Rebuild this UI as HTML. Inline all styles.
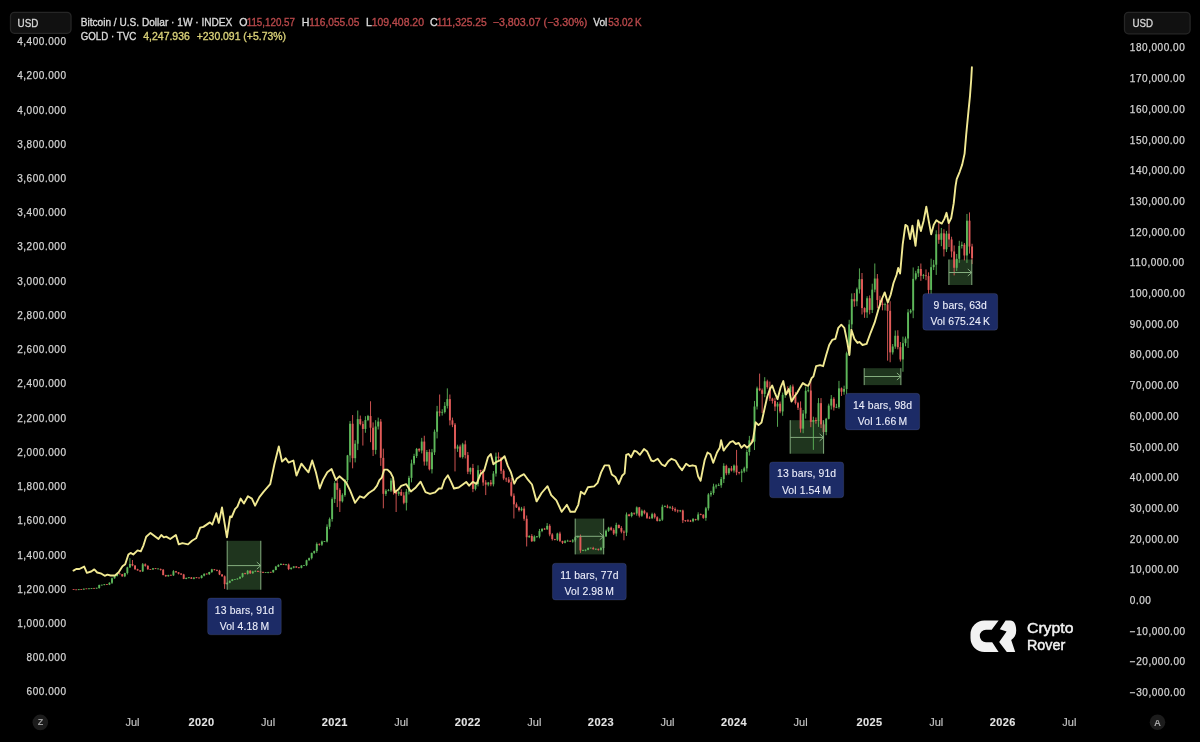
<!DOCTYPE html>
<html><head><meta charset="utf-8"><title>BTC vs Gold</title>
<style>html,body{margin:0;padding:0;background:#000;width:1200px;height:742px;overflow:hidden}svg{display:block}</style>
</head><body>
<svg width="1200" height="742" viewBox="0 0 1200 742">
<defs><clipPath id="cp"><rect x="72" y="0" width="1050" height="705"/></clipPath></defs>
<rect x="227.2" y="540.8" width="33.6" height="48.9" fill="#1f351e"/>
<rect x="575.2" y="518.6" width="28.5" height="35.8" fill="#1f351e"/>
<rect x="790.2" y="420.2" width="33.4" height="33.5" fill="#1f351e"/>
<rect x="864.2" y="368.2" width="36.7" height="16.9" fill="#1f351e"/>
<rect x="948.9" y="259.5" width="22.9" height="25.5" fill="#1f351e"/>
<g clip-path="url(#cp)">
<path d="M71.05 589.43V589.99M78.73 589.16V590.06M83.85 588.52V589.78M88.97 588.5V589.1M91.53 588.15V588.65M96.65 587.84V588.61M99.21 584.63V588.68M101.77 584.83V585.37M104.33 584.03V585.22M109.45 582.33V585.08M112.01 577.61V583.98M114.57 575.43V578.7M117.13 572.86V576.58M124.8 572.79V577.11M127.36 566.75V574.47M129.92 558.15V567.92M142.72 563.02V571.97M152.96 568.03V569.63M158.08 568.5V569.12M168.32 574.77V576.63M173.44 570.13V575.88M186.24 577.72V579.22M188.8 577.06V578.33M193.92 577.35V579.29M201.6 575.08V578.49M204.16 573.33V576.35M209.27 571.81V575.02M211.83 568.8V572.95M227.19 582.48V584.62M229.75 580.39V583.17M232.31 579.13V581.18M234.87 579.33V579.48M237.43 578.19V579.63M239.99 576.37V578.89M242.55 572.84V577.72M247.67 570.06V574.6M252.79 570.81V573.86M255.35 570.44V572.06M265.59 572.11V572.78M268.15 571.84V573.25M273.27 569.68V572.77M275.83 565.91V570.3M278.39 564.27V567.06M280.95 563.22V565.11M286.07 564.24V565.38M291.19 567.55V569.66M293.74 566.11V568.34M301.42 565.23V568.35M303.98 565.08V565.65M306.54 559.7V566.14M309.1 557.61V560.66M311.66 552.6V559.45M314.22 550.63V553.89M316.78 542.44V552.87M321.9 540.55V545.88M324.46 540.99V541.72M327.02 524.35V542.51M329.58 517.51V529.25M332.14 497.41V521.66M334.7 481.1V502.96M342.38 493.36V502.46M344.94 478.97V496.73M347.5 454.9V482.25M350.06 420.96V462.32M355.18 440.2V462.4M357.74 410.5V450.09M365.42 416.19V432.78M367.98 414.88V421.14M375.66 420.15V454.3M378.21 417.58V429.48M385.89 489.2V495.98M388.45 488.98V491.31M391.01 478.19V491.97M398.69 490.84V495.9M406.37 488.99V510.47M408.93 475.86V494.43M411.49 459.64V482.37M414.05 453.81V465M416.61 447.94V457.99M421.73 437.88V453.43M426.85 449.99V465.66M431.97 448.94V473.48M434.53 429.54V455.01M437.09 405.89V438.41M442.21 409.22V415.57M444.77 402.07V413.49M447.33 388.36V408.47M457.57 444.71V451.9M462.69 442.84V458.59M470.36 467.41V474.38M475.48 482.97V490.45M478.04 465.33V486.39M488.28 481.95V486.28M493.4 471.07V486.36M495.96 452.64V476.55M521.56 506.9V511.25M529.24 535.25V537.73M534.36 535.35V541.57M536.92 536.42V537.78M539.48 528.92V538.29M542.04 528.14V532.2M547.16 523.08V530M557.39 532.73V540.95M565.07 540.04V543.34M567.63 539.74V541.68M572.75 539.04V542.69M575.31 536.55V542.12M577.87 535.69V537.95M582.99 549.62V551.11M585.55 549.41V551.29M588.11 547.43V550.21M590.67 547.86V548.41M595.79 548.7V550.02M600.91 546.87V550.62M603.47 534.52V549.66M606.03 529.49V537.03M608.59 526.81V531.88M616.27 522.72V536.41M626.51 512.45V535.97M631.63 511.99V517.34M636.74 506.44V515.74M641.86 509.48V516.83M652.1 512.7V519.07M659.78 518.38V521.38M662.34 504.66V520.87M664.9 505.35V507.18M670.02 505.94V508.7M680.26 509.89V512.16M693.06 518.01V522.25M698.18 512.3V520.77M705.86 506.92V520.74M708.42 493.14V510.54M710.98 490.84V496.66M713.54 483.7V494.83M716.1 484.13V488.64M718.65 483.33V485.95M721.21 477.01V487.79M723.77 463.24V483.02M728.89 467.8V474.82M734.01 464.49V472.66M741.69 469.23V482.17M744.25 466.74V472.83M746.81 449.59V471.65M749.37 435.88V455.59M754.49 400.93V450.03M757.05 386.6V409.5M764.73 377.18V397.23M777.53 401.96V426.81M782.65 392.53V415.8M785.21 388.12V397.79M790.33 384.91V396.28M803.13 410.03V433.26M805.68 386.47V418.63M808.24 386.76V392.24M813.36 416.7V449.88M818.48 398.06V426.9M826.16 417.9V435.21M828.72 403.61V419.41M831.28 395.04V409.51M836.4 403.82V408.1M838.96 380.89V408.73M844.08 385.68V394.73M846.64 351.65V394.3M849.2 319.79V355.43M851.76 293.4V328.59M856.88 287.52V306.23M859.44 268.39V293.5M867.12 296.21V317.91M872.24 283.7V313M874.8 263.47V292.31M885.04 302.66V310.46M892.71 344.04V354.57M895.27 330.47V348.81M902.95 336.61V371.75M905.51 336.53V346.27M908.07 309.11V347.97M910.63 309.07V313.63M913.19 267.47V318.18M915.75 270.8V280.36M918.31 266V277.04M923.43 273.95V278.84M931.11 258.66V298.8M933.67 259.93V270.04M936.23 230.31V274.94M941.35 227.95V246.19M946.47 230.86V252.01M956.71 253.96V270.97M959.27 240.75V262.89M961.83 241.7V248.5M966.95 213.95V262.92" stroke="#5db75a" stroke-width="0.9" fill="none"/>
<path d="M73.61 589.39V589.73M76.17 589.62V590.03M81.29 589.19V589.68M86.41 588.7V589.03M94.09 588.12V588.46M106.89 584.21V584.9M119.69 573.38V574.25M122.24 573.96V576.71M132.48 560V566.28M135.04 565.18V569.8M137.6 568.76V570.62M140.16 570.09V572.08M145.28 563.4V566.73M147.84 565.26V569.79M150.4 569.12V569.72M155.52 568.13V569.1M160.64 568.62V570.57M163.2 569.01V575.29M165.76 574.8V576.77M170.88 574.77V575.73M176 570.91V572.81M178.56 572.01V574.43M181.12 573.09V575.02M183.68 573.83V579.16M191.36 577V578.95M196.48 577.11V578.2M199.04 577.74V578.43M206.71 573.53V574.56M214.39 569.03V570.29M216.95 569.47V571.23M219.51 569.83V575.11M222.07 574.18V576.68M224.63 575.48V588.91M245.11 572.8V574.4M250.23 570.2V574M257.91 570.71V571.98M260.47 571.72V572.48M263.03 571.77V573.02M270.71 571.99V572.63M283.51 563.78V565.04M288.63 563.62V570.14M296.3 566.15V567.83M298.86 567.18V568.29M319.34 543.43V545.55M337.26 480.06V507.09M339.82 488.21V512.01M352.62 415.04V468.33M360.3 415.56V425.37M362.86 421.26V445.57M370.54 401.28V442.19M373.1 422.42V456.03M380.77 419.05V465.87M383.33 448.66V508.32M393.57 479.69V494.58M396.13 489.71V512.01M401.25 489.25V495.96M403.81 492.21V504.24M419.17 448.16V451.92M424.29 435.75V465.62M429.41 449.29V470.45M439.65 394.51V416.37M449.89 394.5V425.39M452.45 417.6V427.16M455.01 423V471.41M460.13 444.64V457.98M465.24 440.51V458.42M467.8 451.99V474.12M472.92 463.92V492.17M480.6 469.75V473.21M483.16 469.16V485.82M485.72 480.12V495.09M490.84 479.98V486.22M498.52 452.34V459.98M501.08 457.12V473.93M503.64 469.28V480.16M506.2 477.49V481.88M508.76 476.97V483.07M511.32 477.98V496.66M513.88 493.4V518.47M516.44 502.4V508M519 506.41V511.61M524.12 506.21V520.79M526.68 515.48V546.46M531.8 534.11V541.94M544.6 527.91V529.88M549.71 524.21V536.27M552.27 533.15V540.59M554.83 538.84V540.34M559.95 531.71V542.05M562.51 540.75V543.97M570.19 540.43V541.76M580.43 534.59V552.92M593.23 546.82V549.61M598.35 548.53V550.65M611.15 526.61V530.76M613.71 528.2V535.02M618.83 524.54V528.44M621.39 526.16V533.33M623.95 530.4V540.31M629.07 513.85V516.46M634.18 512.7V514.82M639.3 506.94V517.47M644.42 509.8V514.39M646.98 512.05V518.98M649.54 516.34V518.88M654.66 512.83V518.59M657.22 516.26V521.53M667.46 504.68V508.26M672.58 505.87V510.79M675.14 507.34V512.02M677.7 509.53V512.64M682.82 509.61V523.08M685.38 520.06V521.88M687.94 519.25V521.99M690.5 519.85V522.04M695.62 518.81V520.61M700.74 513.56V515.18M703.3 514.19V518.84M726.33 464.71V475.22M731.45 466.06V471.49M736.57 449.88V475.21M739.13 471.77V474.37M751.93 439.12V442.03M759.61 373.59V391.16M762.17 388.5V412.96M767.29 379.71V388.69M769.85 381.57V401.08M772.41 397.74V403.59M774.97 397.76V411.08M780.09 401.54V413.22M787.77 386.31V393.77M792.89 384.5V399.9M795.45 391.93V404.52M798.01 401.86V410.01M800.57 401.4V432.62M810.8 381.35V427.18M815.92 417.5V423.67M821.04 398.1V428.07M823.6 422.36V434.04M833.84 397.15V410.56M841.52 387.48V395.95M854.32 293.1V306.79M862 273V314.44M864.56 307.31V317.82M869.68 295.46V314.36M877.36 274.04V308.15M879.92 295.81V306.83M882.48 298.39V310.34M887.6 300.62V360.67M890.15 301.22V362.24M897.83 330.22V349.32M900.39 342.01V361.56M920.87 263.53V280.84M925.99 269.45V280.18M928.55 272.34V297.23M938.79 222.25V243.82M943.91 229.29V256.44M949.03 222.87V247.03M951.59 236.72V257.43M954.15 245.47V275.39M964.39 243.01V260.38M969.51 212.41V253.63M972.07 243.78V264.09" stroke="#e25b59" stroke-width="0.9" fill="none"/>
<g fill="#5db75a"><rect x="70.1" y="589.28" width="1.9" height="0.8"/><rect x="77.78" y="589.28" width="1.9" height="0.8"/><rect x="82.9" y="588.74" width="1.9" height="0.8"/><rect x="88.02" y="588.36" width="1.9" height="0.8"/><rect x="90.58" y="588.05" width="1.9" height="0.8"/><rect x="95.7" y="587.77" width="1.9" height="0.8"/><rect x="98.26" y="585.07" width="1.9" height="2.92"/><rect x="100.82" y="584.67" width="1.9" height="0.8"/><rect x="103.38" y="584.28" width="1.9" height="0.8"/><rect x="108.5" y="582.76" width="1.9" height="1.85"/><rect x="111.06" y="578.3" width="1.9" height="4.46"/><rect x="113.62" y="575.99" width="1.9" height="2.31"/><rect x="116.18" y="573.69" width="1.9" height="2.31"/><rect x="123.85" y="573.07" width="1.9" height="3.23"/><rect x="126.41" y="567.38" width="1.9" height="5.69"/><rect x="128.97" y="564" width="1.9" height="3.38"/><rect x="141.77" y="564.3" width="1.9" height="7.07"/><rect x="152.01" y="568.3" width="1.9" height="1.23"/><rect x="157.13" y="568.52" width="1.9" height="0.8"/><rect x="167.37" y="575.07" width="1.9" height="1.23"/><rect x="172.49" y="571.22" width="1.9" height="4.15"/><rect x="185.29" y="577.84" width="1.9" height="1.08"/><rect x="187.85" y="577.28" width="1.9" height="0.8"/><rect x="192.97" y="577.53" width="1.9" height="1.23"/><rect x="200.65" y="575.68" width="1.9" height="2.31"/><rect x="203.21" y="573.84" width="1.9" height="1.85"/><rect x="208.32" y="571.99" width="1.9" height="2.15"/><rect x="210.88" y="569.38" width="1.9" height="2.61"/><rect x="226.24" y="582.76" width="1.9" height="1.38"/><rect x="228.8" y="580.91" width="1.9" height="1.85"/><rect x="231.36" y="579.38" width="1.9" height="1.54"/><rect x="233.92" y="578.98" width="1.9" height="0.8"/><rect x="236.48" y="578.59" width="1.9" height="0.8"/><rect x="239.04" y="576.91" width="1.9" height="1.69"/><rect x="241.6" y="573.22" width="1.9" height="3.69"/><rect x="246.72" y="570.76" width="1.9" height="3.08"/><rect x="251.84" y="571.53" width="1.9" height="1.69"/><rect x="254.4" y="570.82" width="1.9" height="0.8"/><rect x="264.64" y="572.21" width="1.9" height="0.8"/><rect x="267.2" y="571.98" width="1.9" height="0.8"/><rect x="272.32" y="569.99" width="1.9" height="2.31"/><rect x="274.88" y="566.61" width="1.9" height="3.38"/><rect x="277.44" y="564.92" width="1.9" height="1.69"/><rect x="280" y="564" width="1.9" height="0.92"/><rect x="285.12" y="564.29" width="1.9" height="0.8"/><rect x="290.24" y="567.69" width="1.9" height="1.38"/><rect x="292.79" y="566.46" width="1.9" height="1.23"/><rect x="300.47" y="565.53" width="1.9" height="2.31"/><rect x="303.03" y="564.98" width="1.9" height="0.8"/><rect x="305.59" y="560.3" width="1.9" height="4.92"/><rect x="308.15" y="558.15" width="1.9" height="2.15"/><rect x="310.71" y="552.92" width="1.9" height="5.23"/><rect x="313.27" y="551.08" width="1.9" height="1.85"/><rect x="315.83" y="544" width="1.9" height="7.07"/><rect x="320.95" y="541.54" width="1.9" height="3.08"/><rect x="323.51" y="541.14" width="1.9" height="0.8"/><rect x="326.07" y="526.78" width="1.9" height="14.76"/><rect x="328.63" y="519.09" width="1.9" height="7.69"/><rect x="331.19" y="499.09" width="1.9" height="19.99"/><rect x="333.75" y="483.1" width="1.9" height="16"/><rect x="341.43" y="495.09" width="1.9" height="6.15"/><rect x="343.99" y="480.02" width="1.9" height="15.07"/><rect x="346.55" y="455.41" width="1.9" height="24.61"/><rect x="349.11" y="423.73" width="1.9" height="31.68"/><rect x="354.23" y="443.72" width="1.9" height="14.46"/><rect x="356.79" y="419.12" width="1.9" height="24.61"/><rect x="364.47" y="420.04" width="1.9" height="8.92"/><rect x="367.03" y="416.04" width="1.9" height="4"/><rect x="374.71" y="426.5" width="1.9" height="23.38"/><rect x="377.26" y="421.58" width="1.9" height="4.92"/><rect x="384.94" y="490.79" width="1.9" height="3.08"/><rect x="387.5" y="490.23" width="1.9" height="0.8"/><rect x="390.06" y="480.64" width="1.9" height="9.84"/><rect x="397.74" y="492.02" width="1.9" height="1.85"/><rect x="405.42" y="491.71" width="1.9" height="11.07"/><rect x="407.98" y="477.87" width="1.9" height="13.84"/><rect x="410.54" y="463.41" width="1.9" height="14.46"/><rect x="413.1" y="456.03" width="1.9" height="7.38"/><rect x="415.66" y="448.95" width="1.9" height="7.07"/><rect x="420.78" y="441.57" width="1.9" height="8.92"/><rect x="425.9" y="452.03" width="1.9" height="9.54"/><rect x="431.02" y="452.34" width="1.9" height="16.92"/><rect x="433.58" y="431.73" width="1.9" height="20.61"/><rect x="436.14" y="411.43" width="1.9" height="20.3"/><rect x="441.26" y="411.95" width="1.9" height="0.8"/><rect x="443.82" y="405.89" width="1.9" height="6.15"/><rect x="446.38" y="399.12" width="1.9" height="6.77"/><rect x="456.62" y="446.49" width="1.9" height="2.15"/><rect x="461.74" y="444.34" width="1.9" height="12.61"/><rect x="469.41" y="468.02" width="1.9" height="3.69"/><rect x="474.53" y="484.02" width="1.9" height="4.92"/><rect x="477.09" y="470.18" width="1.9" height="13.84"/><rect x="487.33" y="482.48" width="1.9" height="2.15"/><rect x="492.45" y="473.56" width="1.9" height="10.77"/><rect x="495.01" y="456.64" width="1.9" height="16.92"/><rect x="520.61" y="508.63" width="1.9" height="1.54"/><rect x="528.29" y="536" width="1.9" height="1.23"/><rect x="533.41" y="536.62" width="1.9" height="4.61"/><rect x="535.97" y="536.22" width="1.9" height="0.8"/><rect x="538.53" y="531.08" width="1.9" height="5.54"/><rect x="541.09" y="528.93" width="1.9" height="2.15"/><rect x="546.21" y="525.85" width="1.9" height="3.38"/><rect x="556.44" y="533.54" width="1.9" height="6.15"/><rect x="564.12" y="541.23" width="1.9" height="1.54"/><rect x="566.68" y="540.68" width="1.9" height="0.8"/><rect x="571.8" y="540.31" width="1.9" height="1.23"/><rect x="574.36" y="537.23" width="1.9" height="3.08"/><rect x="576.92" y="536.31" width="1.9" height="0.92"/><rect x="582.04" y="550.06" width="1.9" height="0.8"/><rect x="584.6" y="549.75" width="1.9" height="0.8"/><rect x="587.16" y="548" width="1.9" height="1.85"/><rect x="589.72" y="547.6" width="1.9" height="0.8"/><rect x="594.84" y="548.68" width="1.9" height="0.8"/><rect x="599.96" y="548" width="1.9" height="1.85"/><rect x="602.52" y="536.31" width="1.9" height="11.69"/><rect x="605.08" y="530.77" width="1.9" height="5.54"/><rect x="607.64" y="527.7" width="1.9" height="3.08"/><rect x="615.32" y="524.93" width="1.9" height="8.61"/><rect x="625.56" y="514.47" width="1.9" height="18.15"/><rect x="630.68" y="512.93" width="1.9" height="3.08"/><rect x="635.79" y="507.4" width="1.9" height="6.15"/><rect x="640.91" y="510.78" width="1.9" height="4.92"/><rect x="651.15" y="514.16" width="1.9" height="4"/><rect x="658.83" y="519.7" width="1.9" height="1.23"/><rect x="661.39" y="506.78" width="1.9" height="12.92"/><rect x="663.95" y="506.23" width="1.9" height="0.8"/><rect x="669.07" y="507.3" width="1.9" height="0.8"/><rect x="679.31" y="510.38" width="1.9" height="0.8"/><rect x="692.11" y="519.09" width="1.9" height="2.15"/><rect x="697.23" y="514.47" width="1.9" height="5.23"/><rect x="704.91" y="508.32" width="1.9" height="9.54"/><rect x="707.47" y="494.48" width="1.9" height="13.84"/><rect x="710.03" y="492.94" width="1.9" height="1.54"/><rect x="712.59" y="486.48" width="1.9" height="6.46"/><rect x="715.15" y="485.56" width="1.9" height="0.92"/><rect x="717.7" y="485" width="1.9" height="0.8"/><rect x="720.26" y="479.1" width="1.9" height="6.15"/><rect x="722.82" y="465.87" width="1.9" height="13.23"/><rect x="727.94" y="468.33" width="1.9" height="4.92"/><rect x="733.06" y="465.56" width="1.9" height="4.92"/><rect x="740.74" y="471.41" width="1.9" height="1.23"/><rect x="743.3" y="468.33" width="1.9" height="3.08"/><rect x="745.86" y="452.03" width="1.9" height="16.3"/><rect x="748.42" y="440.34" width="1.9" height="11.69"/><rect x="753.54" y="406.5" width="1.9" height="35.07"/><rect x="756.1" y="388.36" width="1.9" height="18.15"/><rect x="763.78" y="381.28" width="1.9" height="12.61"/><rect x="776.58" y="403.74" width="1.9" height="2.77"/><rect x="781.7" y="394.82" width="1.9" height="16.61"/><rect x="784.26" y="389.89" width="1.9" height="4.92"/><rect x="789.38" y="386.51" width="1.9" height="5.54"/><rect x="802.18" y="413.58" width="1.9" height="15.07"/><rect x="804.73" y="390.82" width="1.9" height="22.76"/><rect x="807.29" y="390.26" width="1.9" height="0.8"/><rect x="812.41" y="420.04" width="1.9" height="1.85"/><rect x="817.53" y="403.12" width="1.9" height="17.84"/><rect x="825.21" y="418.81" width="1.9" height="13.23"/><rect x="827.77" y="405.58" width="1.9" height="13.23"/><rect x="830.33" y="398.81" width="1.9" height="6.77"/><rect x="835.45" y="406.87" width="1.9" height="0.8"/><rect x="838.01" y="388.36" width="1.9" height="18.76"/><rect x="843.13" y="388.97" width="1.9" height="2.77"/><rect x="845.69" y="353.29" width="1.9" height="35.68"/><rect x="848.25" y="324.38" width="1.9" height="28.91"/><rect x="850.81" y="299.15" width="1.9" height="25.22"/><rect x="855.93" y="289.31" width="1.9" height="12"/><rect x="858.49" y="279.16" width="1.9" height="10.15"/><rect x="866.17" y="298.23" width="1.9" height="14.15"/><rect x="871.29" y="289.62" width="1.9" height="20.3"/><rect x="873.85" y="278.54" width="1.9" height="11.07"/><rect x="884.09" y="304.29" width="1.9" height="0.8"/><rect x="891.76" y="346.52" width="1.9" height="5.84"/><rect x="894.32" y="335.76" width="1.9" height="10.77"/><rect x="902" y="343.14" width="1.9" height="16.3"/><rect x="904.56" y="338.52" width="1.9" height="4.61"/><rect x="907.12" y="312.38" width="1.9" height="26.15"/><rect x="909.68" y="310.53" width="1.9" height="1.85"/><rect x="912.24" y="278.85" width="1.9" height="31.68"/><rect x="914.8" y="273.31" width="1.9" height="5.54"/><rect x="917.36" y="269.01" width="1.9" height="4.31"/><rect x="922.48" y="275.22" width="1.9" height="0.8"/><rect x="930.16" y="267.16" width="1.9" height="22.76"/><rect x="932.72" y="264.7" width="1.9" height="2.46"/><rect x="935.28" y="234.25" width="1.9" height="30.45"/><rect x="940.4" y="233.33" width="1.9" height="6.46"/><rect x="945.52" y="233.63" width="1.9" height="15.69"/><rect x="955.76" y="258.86" width="1.9" height="8.92"/><rect x="958.32" y="245.94" width="1.9" height="12.92"/><rect x="960.88" y="244.71" width="1.9" height="1.23"/><rect x="966" y="220.71" width="1.9" height="34.76"/></g>
<g fill="#e25b59"><rect x="72.66" y="589.2" width="1.9" height="0.8"/><rect x="75.22" y="589.43" width="1.9" height="0.8"/><rect x="80.34" y="589.05" width="1.9" height="0.8"/><rect x="85.46" y="588.43" width="1.9" height="0.8"/><rect x="93.14" y="587.93" width="1.9" height="0.8"/><rect x="105.94" y="584.05" width="1.9" height="0.8"/><rect x="118.74" y="573.52" width="1.9" height="0.8"/><rect x="121.29" y="574.15" width="1.9" height="2.15"/><rect x="131.53" y="564" width="1.9" height="1.54"/><rect x="134.09" y="565.53" width="1.9" height="3.69"/><rect x="136.65" y="569.22" width="1.9" height="1.23"/><rect x="139.21" y="570.46" width="1.9" height="0.92"/><rect x="144.33" y="564.3" width="1.9" height="1.54"/><rect x="146.89" y="565.84" width="1.9" height="3.38"/><rect x="149.45" y="568.98" width="1.9" height="0.8"/><rect x="154.57" y="568.21" width="1.9" height="0.8"/><rect x="159.69" y="568.92" width="1.9" height="0.92"/><rect x="162.25" y="569.84" width="1.9" height="5.23"/><rect x="164.81" y="575.07" width="1.9" height="1.23"/><rect x="169.93" y="574.82" width="1.9" height="0.8"/><rect x="175.05" y="571.22" width="1.9" height="1.08"/><rect x="177.61" y="572.3" width="1.9" height="1.38"/><rect x="180.17" y="573.67" width="1.9" height="0.8"/><rect x="182.73" y="574.45" width="1.9" height="4.46"/><rect x="190.41" y="577.53" width="1.9" height="1.23"/><rect x="195.53" y="577.28" width="1.9" height="0.8"/><rect x="198.09" y="577.51" width="1.9" height="0.8"/><rect x="205.76" y="573.59" width="1.9" height="0.8"/><rect x="213.44" y="569.36" width="1.9" height="0.8"/><rect x="216" y="570.06" width="1.9" height="0.8"/><rect x="218.56" y="570.76" width="1.9" height="3.69"/><rect x="221.12" y="574.45" width="1.9" height="1.85"/><rect x="223.68" y="576.3" width="1.9" height="7.84"/><rect x="244.16" y="573.13" width="1.9" height="0.8"/><rect x="249.28" y="570.76" width="1.9" height="2.46"/><rect x="256.96" y="570.92" width="1.9" height="0.92"/><rect x="259.52" y="571.52" width="1.9" height="0.8"/><rect x="262.08" y="571.9" width="1.9" height="0.8"/><rect x="269.76" y="571.82" width="1.9" height="0.8"/><rect x="282.56" y="563.98" width="1.9" height="0.8"/><rect x="287.68" y="564.61" width="1.9" height="4.46"/><rect x="295.35" y="566.46" width="1.9" height="1.08"/><rect x="297.91" y="567.29" width="1.9" height="0.8"/><rect x="318.39" y="543.91" width="1.9" height="0.8"/><rect x="336.31" y="483.1" width="1.9" height="6.77"/><rect x="338.87" y="489.86" width="1.9" height="11.38"/><rect x="351.67" y="423.73" width="1.9" height="34.45"/><rect x="359.35" y="419.12" width="1.9" height="4.92"/><rect x="361.91" y="424.04" width="1.9" height="4.92"/><rect x="369.59" y="416.04" width="1.9" height="11.69"/><rect x="372.15" y="427.73" width="1.9" height="22.15"/><rect x="379.82" y="421.58" width="1.9" height="36.3"/><rect x="382.38" y="457.87" width="1.9" height="35.99"/><rect x="392.62" y="480.64" width="1.9" height="10.77"/><rect x="395.18" y="491.4" width="1.9" height="2.46"/><rect x="400.3" y="492.02" width="1.9" height="3.38"/><rect x="402.86" y="495.4" width="1.9" height="7.38"/><rect x="418.22" y="448.95" width="1.9" height="1.54"/><rect x="423.34" y="441.57" width="1.9" height="19.99"/><rect x="428.46" y="452.03" width="1.9" height="17.23"/><rect x="438.7" y="411.43" width="1.9" height="1.23"/><rect x="448.94" y="399.12" width="1.9" height="21.22"/><rect x="451.5" y="420.35" width="1.9" height="4.31"/><rect x="454.06" y="424.65" width="1.9" height="23.99"/><rect x="459.18" y="446.49" width="1.9" height="10.46"/><rect x="464.29" y="444.34" width="1.9" height="10.77"/><rect x="466.85" y="455.11" width="1.9" height="16.61"/><rect x="471.97" y="468.02" width="1.9" height="20.92"/><rect x="479.65" y="470.09" width="1.9" height="0.8"/><rect x="482.21" y="470.79" width="1.9" height="11.69"/><rect x="484.77" y="482.48" width="1.9" height="2.15"/><rect x="489.89" y="482.48" width="1.9" height="1.85"/><rect x="497.57" y="456.64" width="1.9" height="1.23"/><rect x="500.13" y="457.87" width="1.9" height="12.92"/><rect x="502.69" y="470.79" width="1.9" height="7.69"/><rect x="505.25" y="478.48" width="1.9" height="0.92"/><rect x="507.81" y="479.41" width="1.9" height="2.77"/><rect x="510.37" y="482.17" width="1.9" height="13.53"/><rect x="512.93" y="495.71" width="1.9" height="8.61"/><rect x="515.49" y="504.32" width="1.9" height="3.08"/><rect x="518.05" y="507.4" width="1.9" height="2.77"/><rect x="523.17" y="508.63" width="1.9" height="10.15"/><rect x="525.73" y="518.78" width="1.9" height="18.46"/><rect x="530.85" y="536" width="1.9" height="5.23"/><rect x="543.65" y="528.68" width="1.9" height="0.8"/><rect x="548.76" y="525.85" width="1.9" height="8.61"/><rect x="551.32" y="534.47" width="1.9" height="4.61"/><rect x="553.88" y="538.99" width="1.9" height="0.8"/><rect x="559" y="533.54" width="1.9" height="7.38"/><rect x="561.56" y="540.93" width="1.9" height="1.85"/><rect x="569.24" y="540.83" width="1.9" height="0.8"/><rect x="579.48" y="536.31" width="1.9" height="14.15"/><rect x="592.28" y="548" width="1.9" height="1.23"/><rect x="597.4" y="548.92" width="1.9" height="0.92"/><rect x="610.2" y="527.7" width="1.9" height="2.15"/><rect x="612.76" y="529.85" width="1.9" height="3.69"/><rect x="617.88" y="524.93" width="1.9" height="3.08"/><rect x="620.44" y="528.01" width="1.9" height="3.69"/><rect x="623" y="531.7" width="1.9" height="0.92"/><rect x="628.12" y="514.47" width="1.9" height="1.54"/><rect x="633.23" y="512.84" width="1.9" height="0.8"/><rect x="638.35" y="507.4" width="1.9" height="8.31"/><rect x="643.47" y="510.78" width="1.9" height="2.46"/><rect x="646.03" y="513.24" width="1.9" height="4.61"/><rect x="648.59" y="517.61" width="1.9" height="0.8"/><rect x="653.71" y="514.16" width="1.9" height="3.08"/><rect x="656.27" y="517.24" width="1.9" height="3.69"/><rect x="666.51" y="506.47" width="1.9" height="1.23"/><rect x="671.63" y="507.7" width="1.9" height="1.23"/><rect x="674.19" y="508.94" width="1.9" height="1.54"/><rect x="676.75" y="510.38" width="1.9" height="0.8"/><rect x="681.87" y="510.47" width="1.9" height="9.84"/><rect x="684.43" y="520.07" width="1.9" height="0.8"/><rect x="686.99" y="520.38" width="1.9" height="0.8"/><rect x="689.55" y="520.69" width="1.9" height="0.8"/><rect x="694.67" y="518.99" width="1.9" height="0.8"/><rect x="699.79" y="514.23" width="1.9" height="0.8"/><rect x="702.35" y="514.78" width="1.9" height="3.08"/><rect x="725.38" y="465.87" width="1.9" height="7.38"/><rect x="730.5" y="468.33" width="1.9" height="2.15"/><rect x="735.62" y="465.56" width="1.9" height="6.77"/><rect x="738.18" y="472.08" width="1.9" height="0.8"/><rect x="750.98" y="440.34" width="1.9" height="1.23"/><rect x="758.66" y="388.36" width="1.9" height="1.85"/><rect x="761.22" y="390.2" width="1.9" height="3.69"/><rect x="766.34" y="381.28" width="1.9" height="5.84"/><rect x="768.9" y="387.13" width="1.9" height="11.38"/><rect x="771.46" y="398.51" width="1.9" height="2.46"/><rect x="774.02" y="400.97" width="1.9" height="5.54"/><rect x="779.14" y="403.74" width="1.9" height="7.69"/><rect x="786.82" y="389.89" width="1.9" height="2.15"/><rect x="791.94" y="386.51" width="1.9" height="9.23"/><rect x="794.5" y="395.74" width="1.9" height="7.38"/><rect x="797.06" y="403.12" width="1.9" height="4.61"/><rect x="799.62" y="407.73" width="1.9" height="20.92"/><rect x="809.85" y="390.51" width="1.9" height="31.38"/><rect x="814.97" y="420.04" width="1.9" height="0.92"/><rect x="820.09" y="403.12" width="1.9" height="21.22"/><rect x="822.65" y="424.35" width="1.9" height="7.69"/><rect x="832.89" y="398.81" width="1.9" height="8.61"/><rect x="840.57" y="388.36" width="1.9" height="3.38"/><rect x="853.37" y="299.15" width="1.9" height="2.15"/><rect x="861.05" y="279.16" width="1.9" height="28.91"/><rect x="863.61" y="308.07" width="1.9" height="4.31"/><rect x="868.73" y="298.23" width="1.9" height="11.69"/><rect x="876.41" y="278.54" width="1.9" height="21.53"/><rect x="878.97" y="300.07" width="1.9" height="3.69"/><rect x="881.53" y="303.77" width="1.9" height="1.23"/><rect x="886.65" y="304.38" width="1.9" height="6.46"/><rect x="889.2" y="310.84" width="1.9" height="41.53"/><rect x="896.88" y="335.76" width="1.9" height="11.38"/><rect x="899.44" y="347.14" width="1.9" height="12.3"/><rect x="919.92" y="269.01" width="1.9" height="6.77"/><rect x="925.04" y="275.37" width="1.9" height="0.8"/><rect x="927.6" y="276.08" width="1.9" height="13.84"/><rect x="937.84" y="234.25" width="1.9" height="5.54"/><rect x="942.96" y="233.33" width="1.9" height="16"/><rect x="948.08" y="233.63" width="1.9" height="5.84"/><rect x="950.64" y="239.48" width="1.9" height="12"/><rect x="953.2" y="251.47" width="1.9" height="16.3"/><rect x="963.44" y="244.71" width="1.9" height="10.77"/><rect x="968.56" y="220.71" width="1.9" height="25.84"/><rect x="971.12" y="246.49" width="1.9" height="11.75"/></g>
<polyline points="73.5,570.6 76.2,569 79.4,569 84.2,566.6 86.9,572.8 91.2,571.5 94.3,569.4 97.2,572.5 101.5,573.7 104.7,575.8 107.4,574.7 110.6,575.5 115,575.5 118.7,572.3 122.5,566.3 125.2,564.2 128.4,554.5 130.6,552.9 133.3,554.5 137.6,550.4 140.8,551.3 143.5,545.3 146.2,536.7 150.5,532.9 154.8,536.2 158.5,539 161.3,535 163.8,537.4 166.2,536.6 170.2,539 175.9,535 178.8,544.4 182.4,543.1 188,544.4 192,540.7 196.1,538.3 200.2,527.7 203.4,526.9 209.9,522.4 212.3,524.5 216.3,513.2 218.8,522.9 222,507.5 226.9,537.4 230.1,516.4 231.7,517.2 235,509.1 237.4,506.7 240.6,498.6 243.9,503.5 247.9,496.2 251.9,498.6 255.1,505.7 259.4,497.1 263.7,491.7 270.2,484.2 274.5,463.7 278.8,446.5 282,461.6 285.7,458.3 288.5,462.6 293.4,460.5 296.5,475.6 301.4,463.7 305.7,469.1 308.5,472.3 312.2,460.5 315.9,472.3 319.7,488.5 323,479.9 327.3,472.3 331.6,469.1 335.9,479.9 339.4,476.3 342.9,479.3 346.2,482.5 350.2,490.6 355.1,502.8 359.9,496.3 364,497.9 368.8,493 373.7,489.8 376.9,485.8 379.4,480.1 381.8,477.7 384.2,469.6 387.4,469.6 390.7,472.8 393.1,477.7 394.7,492.2 398,489.8 401.2,485.8 406.1,484.1 410.9,491.4 415.8,487.4 420.6,481.7 425.5,492.2 430,493.9 435.1,492.3 438.9,488.5 441.7,488.5 444.5,480 447.9,475.3 451.1,481.9 454,488.5 458.7,487.5 462.5,484.7 466.2,481.9 469.1,485.7 472.8,481.9 476.6,483.8 480.4,474.3 484.2,470.6 487.9,457.4 490.8,454 493.4,464.3 496.5,461.8 500.5,460.2 504.6,456.2 507.8,465.9 511,472.4 514.3,483.7 516.7,478.8 519.9,476.4 524,474.2 527.3,478.8 532,484.5 536.6,501.4 541.6,493 547.5,486.2 551.2,495.2 556.4,500.4 561.7,511.8 566.9,504.8 570.4,511.8 574.8,511.8 578.3,504.8 580.9,491.7 584.4,494.3 587.9,487.3 594.1,486.4 597.6,482.9 601.1,472.4 604.6,465.4 609,465.4 611.8,474.5 615.4,477 618.8,483.9 622.1,475.8 624.6,473.4 626.2,454.8 628.6,454 631,457.2 634.3,450.7 636.7,451.6 639.9,454.8 644,449.1 647.2,451.6 651.3,460.5 653.7,461.3 657.7,458.8 661.8,464.5 665,466.1 668.3,461.3 671.5,458.8 675.5,460.5 678.8,466.1 682,470.2 686.1,463.7 689.3,466.1 692.5,465.3 695.8,466.1 698.2,476.6 700.6,480.7 702.8,469.4 704.7,460 707.5,452.5 710.4,454.3 713.2,462.8 717,452.5 719.8,447.7 721.1,440.2 723.6,450.6 726.4,446.8 730.2,442.1 733,441.1 735.8,444 738.7,443 741.5,447.7 744.3,444.9 747.2,447.7 750,444.9 752.8,441.1 755.7,422.3 758.5,425.1 761.5,422.5 764.5,409 767.2,397 770,389 772.2,385.5 774.7,392.5 777.5,399.2 780.6,387.5 783.3,381.1 786,394.6 788.8,389.1 791.5,401.5 794.2,396.9 796.9,393.3 800.2,387.4 802.9,383.1 805.5,384.9 808.2,385.8 809.9,382.3 811.7,377.9 813.4,376.6 816.1,366.2 820.1,365.2 823.1,366.2 826.2,355 829.2,345 832.2,339.9 835.3,338.9 838.3,327.8 841.3,324.7 844.3,327.8 847.4,342.9 849.4,355 851.4,329.8 854.4,338.9 857.5,342.9 859.5,341.9 862.5,345 866.6,343.9 870.6,332.8 874.6,322.7 878.7,308.6 881.7,299.5 884.7,292.4 887.8,302.5 890.6,295 893.5,283 896.5,275 898.2,268 900.1,273.5 902.7,244.4 905.4,224.9 907.4,226.3 910.1,239.1 912.4,225.6 915.5,245.8 918.2,220.2 920.9,231 923.6,220.9 926.3,206.7 928.6,220.2 931.2,234.3 933.7,224.9 936.4,220.2 939.1,222.2 941.8,223.6 944.4,218.9 946.5,212.8 948.7,223 951.2,218 953.7,203.4 955.5,186.4 956.7,179.1 959.7,171.8 962.2,164.6 964.6,153.6 966.2,134.7 968.4,111.8 970,95.8 971.2,79.7 971.9,67.2" fill="none" stroke="#f1e992" stroke-width="1.9" stroke-linejoin="round" stroke-linecap="round"/>
</g>
<path d="M227.2 540.8V589.7M260.8 540.8V589.7M227.2 565.6H260.8M256.8 562.1L260.8 565.6L256.8 569.1" stroke="#84ad7e" stroke-width="1" fill="none"/>
<path d="M575.2 518.6V554.4M603.7 518.6V554.4M575.2 536.3H603.7M599.7 532.8L603.7 536.3L599.7 539.8" stroke="#84ad7e" stroke-width="1" fill="none"/>
<path d="M790.2 420.2V453.7M823.6 420.2V453.7M790.2 437.4H823.6M819.6 433.9L823.6 437.4L819.6 440.9" stroke="#84ad7e" stroke-width="1" fill="none"/>
<path d="M864.2 368.2V385.1M900.9 368.2V385.1M864.2 376.5H900.9M896.9 373L900.9 376.5L896.9 380" stroke="#84ad7e" stroke-width="1" fill="none"/>
<path d="M948.9 259.5V285M971.8 259.5V285M948.9 272.5H971.8M967.8 269L971.8 272.5L967.8 276" stroke="#84ad7e" stroke-width="1" fill="none"/>
<g font-family="Liberation Sans, Arial, sans-serif" font-size="10.4" letter-spacing="0.12" fill="#eceefa" stroke="#eceefa" stroke-width="0.1">
<rect x="207.6" y="598" width="73.7" height="36.8" rx="3" fill="#1c2b66"/>
<text x="244.45" y="613.5" text-anchor="middle">13 bars, 91d</text>
<text x="244.45" y="629.7" text-anchor="middle">Vol 4.18 M</text>
<rect x="552.4" y="563.2" width="73.9" height="36.8" rx="3" fill="#1c2b66"/>
<text x="589.35" y="578.7" text-anchor="middle">11 bars, 77d</text>
<text x="589.35" y="594.9" text-anchor="middle">Vol 2.98 M</text>
<rect x="769.6" y="461.9" width="74.1" height="35.9" rx="3" fill="#1c2b66"/>
<text x="806.65" y="477.4" text-anchor="middle">13 bars, 91d</text>
<text x="806.65" y="493.6" text-anchor="middle">Vol 1.54 M</text>
<rect x="845.4" y="393.3" width="74.3" height="36.6" rx="3" fill="#1c2b66"/>
<text x="882.55" y="408.8" text-anchor="middle">14 bars, 98d</text>
<text x="882.55" y="425" text-anchor="middle">Vol 1.66 M</text>
<rect x="922.8" y="293.4" width="74.9" height="36.8" rx="3" fill="#1c2b66"/>
<text x="960.25" y="308.9" text-anchor="middle">9 bars, 63d</text>
<text x="960.25" y="325.1" text-anchor="middle">Vol 675.24 K</text>
</g>
<g font-family="Liberation Sans, Arial, sans-serif" font-size="10" letter-spacing="0.55" fill="#d2d2d2" stroke="#d2d2d2" stroke-width="0.25">
<text x="66.6" y="45.1" text-anchor="end">4,400.000</text>
<text x="66.6" y="79.33" text-anchor="end">4,200.000</text>
<text x="66.6" y="113.56" text-anchor="end">4,000.000</text>
<text x="66.6" y="147.79" text-anchor="end">3,800.000</text>
<text x="66.6" y="182.02" text-anchor="end">3,600.000</text>
<text x="66.6" y="216.25" text-anchor="end">3,400.000</text>
<text x="66.6" y="250.48" text-anchor="end">3,200.000</text>
<text x="66.6" y="284.71" text-anchor="end">3,000.000</text>
<text x="66.6" y="318.94" text-anchor="end">2,800.000</text>
<text x="66.6" y="353.17" text-anchor="end">2,600.000</text>
<text x="66.6" y="387.4" text-anchor="end">2,400.000</text>
<text x="66.6" y="421.63" text-anchor="end">2,200.000</text>
<text x="66.6" y="455.86" text-anchor="end">2,000.000</text>
<text x="66.6" y="490.09" text-anchor="end">1,800.000</text>
<text x="66.6" y="524.32" text-anchor="end">1,600.000</text>
<text x="66.6" y="558.55" text-anchor="end">1,400.000</text>
<text x="66.6" y="592.78" text-anchor="end">1,200.000</text>
<text x="66.6" y="627.01" text-anchor="end">1,000.000</text>
<text x="66.6" y="661.24" text-anchor="end">800.000</text>
<text x="66.6" y="695.47" text-anchor="end">600.000</text>
<text x="1129.8" y="51.4">180,000.00</text>
<text x="1129.8" y="82.1">170,000.00</text>
<text x="1129.8" y="112.8">160,000.00</text>
<text x="1129.8" y="143.5">150,000.00</text>
<text x="1129.8" y="174.2">140,000.00</text>
<text x="1129.8" y="204.9">130,000.00</text>
<text x="1129.8" y="235.6">120,000.00</text>
<text x="1129.8" y="266.3">110,000.00</text>
<text x="1129.8" y="297">100,000.00</text>
<text x="1129.8" y="327.7">90,000.00</text>
<text x="1129.8" y="358.4">80,000.00</text>
<text x="1129.8" y="389.1">70,000.00</text>
<text x="1129.8" y="419.8">60,000.00</text>
<text x="1129.8" y="450.5">50,000.00</text>
<text x="1129.8" y="481.2">40,000.00</text>
<text x="1129.8" y="511.9">30,000.00</text>
<text x="1129.8" y="542.6">20,000.00</text>
<text x="1129.8" y="573.3">10,000.00</text>
<text x="1129.8" y="604">0.00</text>
<text x="1129.8" y="634.7">−10,000.00</text>
<text x="1129.8" y="665.4">−20,000.00</text>
<text x="1129.8" y="696.1">−30,000.00</text>
</g>
<g font-family="Liberation Sans, Arial, sans-serif" font-size="11" fill="#c4c4c4" stroke="#c4c4c4" stroke-width="0.15">
<text x="201.6" y="726.4" text-anchor="middle" font-weight="bold" letter-spacing="0.4" fill="#e6e6e6">2020</text>
<text x="334.7" y="726.4" text-anchor="middle" font-weight="bold" letter-spacing="0.4" fill="#e6e6e6">2021</text>
<text x="467.7" y="726.4" text-anchor="middle" font-weight="bold" letter-spacing="0.4" fill="#e6e6e6">2022</text>
<text x="600.9" y="726.4" text-anchor="middle" font-weight="bold" letter-spacing="0.4" fill="#e6e6e6">2023</text>
<text x="734" y="726.4" text-anchor="middle" font-weight="bold" letter-spacing="0.4" fill="#e6e6e6">2024</text>
<text x="869.6" y="726.4" text-anchor="middle" font-weight="bold" letter-spacing="0.4" fill="#e6e6e6">2025</text>
<text x="1002.8" y="726.4" text-anchor="middle" font-weight="bold" letter-spacing="0.4" fill="#e6e6e6">2026</text>
<text x="132.5" y="726.4" text-anchor="middle">Jul</text>
<text x="268.1" y="726.4" text-anchor="middle">Jul</text>
<text x="401.2" y="726.4" text-anchor="middle">Jul</text>
<text x="534.4" y="726.4" text-anchor="middle">Jul</text>
<text x="667.5" y="726.4" text-anchor="middle">Jul</text>
<text x="800.6" y="726.4" text-anchor="middle">Jul</text>
<text x="936.2" y="726.4" text-anchor="middle">Jul</text>
<text x="1069.3" y="726.4" text-anchor="middle">Jul</text>
</g>
<circle cx="40.3" cy="722.4" r="7.8" fill="#1c1c1c"/><text x="40.6" y="725.1" text-anchor="middle" font-family="Liberation Sans, Arial, sans-serif" font-size="9" font-weight="bold" fill="#9c9c9c">Z</text>
<circle cx="1157.5" cy="722.2" r="7.8" fill="#1c1c1c"/><text x="1157.5" y="725.6" text-anchor="middle" font-family="Liberation Sans, Arial, sans-serif" font-size="9.6" font-weight="bold" fill="#a6a6a6">A</text>
<rect x="10.5" y="12.3" width="60.5" height="21" rx="4" fill="#111" stroke="#262626" stroke-width="1.3"/>
<text x="17.6" y="27" font-family="Liberation Sans, Arial, sans-serif" font-size="10.8" fill="#d8d8d8" stroke="#d8d8d8" stroke-width="0.3" textLength="20.8" lengthAdjust="spacingAndGlyphs">USD</text>
<rect x="1124.5" y="12.3" width="65.6" height="21.5" rx="4" fill="#111" stroke="#262626" stroke-width="1.3"/>
<text x="1132.4" y="27" font-family="Liberation Sans, Arial, sans-serif" font-size="10.8" fill="#d8d8d8" stroke="#d8d8d8" stroke-width="0.3" textLength="20.6" lengthAdjust="spacingAndGlyphs">USD</text>
<g font-family="Liberation Sans, Arial, sans-serif" font-size="10.6" stroke-width="0.35">
<text x="80.7" y="26.1" fill="#dadada" stroke="#dadada" textLength="151.6" lengthAdjust="spacingAndGlyphs">Bitcoin / U.S. Dollar · 1W · INDEX</text>
<text x="239.3" y="26.1" fill="#dadada" stroke="#dadada">O</text>
<text x="246.7" y="26.1" fill="#b9494b" stroke="#b9494b" textLength="48.3" lengthAdjust="spacingAndGlyphs">115,120.57</text>
<text x="301.7" y="26.1" fill="#dadada" stroke="#dadada">H</text>
<text x="309.3" y="26.1" fill="#b9494b" stroke="#b9494b" textLength="50" lengthAdjust="spacingAndGlyphs">116,055.05</text>
<text x="366" y="26.1" fill="#dadada" stroke="#dadada">L</text>
<text x="371.7" y="26.1" fill="#b9494b" stroke="#b9494b" textLength="52.3" lengthAdjust="spacingAndGlyphs">109,408.20</text>
<text x="430" y="26.1" fill="#dadada" stroke="#dadada">C</text>
<text x="436.7" y="26.1" fill="#b9494b" stroke="#b9494b" textLength="50" lengthAdjust="spacingAndGlyphs">111,325.25</text>
<text x="492.7" y="26.1" fill="#b9494b" stroke="#b9494b" textLength="94.6" lengthAdjust="spacingAndGlyphs">−3,803.07 (−3.30%)</text>
<text x="593.3" y="26.1" fill="#dadada" stroke="#dadada" textLength="14" lengthAdjust="spacingAndGlyphs">Vol</text>
<text x="608.3" y="26.1" fill="#b9494b" stroke="#b9494b" textLength="33.4" lengthAdjust="spacingAndGlyphs">53.02 K</text>
<text x="80.7" y="40.1" fill="#dadada" stroke="#dadada" textLength="55.5" lengthAdjust="spacingAndGlyphs">GOLD · TVC</text>
<text x="143.3" y="40.1" fill="#d8d078" stroke="#d8d078" textLength="46.5" lengthAdjust="spacingAndGlyphs">4,247.936</text>
<text x="196.7" y="40.1" fill="#d8d078" stroke="#d8d078" textLength="89.3" lengthAdjust="spacingAndGlyphs">+230.091 (+5.73%)</text>
</g>
<g fill="#f2f2f2">
<path d="M998.6 620.5H984.5A14 14 0 0 0 970.5 634.5V638.1A14 14 0 0 0 984.5 652.1H998.6L992.2 642.2H986A6.2 6.2 0 0 1 986 629.8H991.7Z"/>
<path d="M1005.6 620.6H1010.4C1014.2 620.6 1016.2 624.6 1016.2 630.6C1016.2 635.2 1014.2 638.2 1011.2 640L1015.2 652.1H1006.8L999.2 642L1006.6 631.6L999.8 629.2Z"/>
</g>
<text x="1027" y="633.4" font-family="Liberation Sans, Arial, sans-serif" font-size="14.3" fill="#f2f2f2" stroke="#f2f2f2" stroke-width="0.45" textLength="46.4" lengthAdjust="spacingAndGlyphs">Crypto</text>
<text x="1027" y="650.2" font-family="Liberation Sans, Arial, sans-serif" font-size="14.3" fill="#f2f2f2" stroke="#f2f2f2" stroke-width="0.45" textLength="38.2" lengthAdjust="spacingAndGlyphs">Rover</text>
</svg>
</body></html>
